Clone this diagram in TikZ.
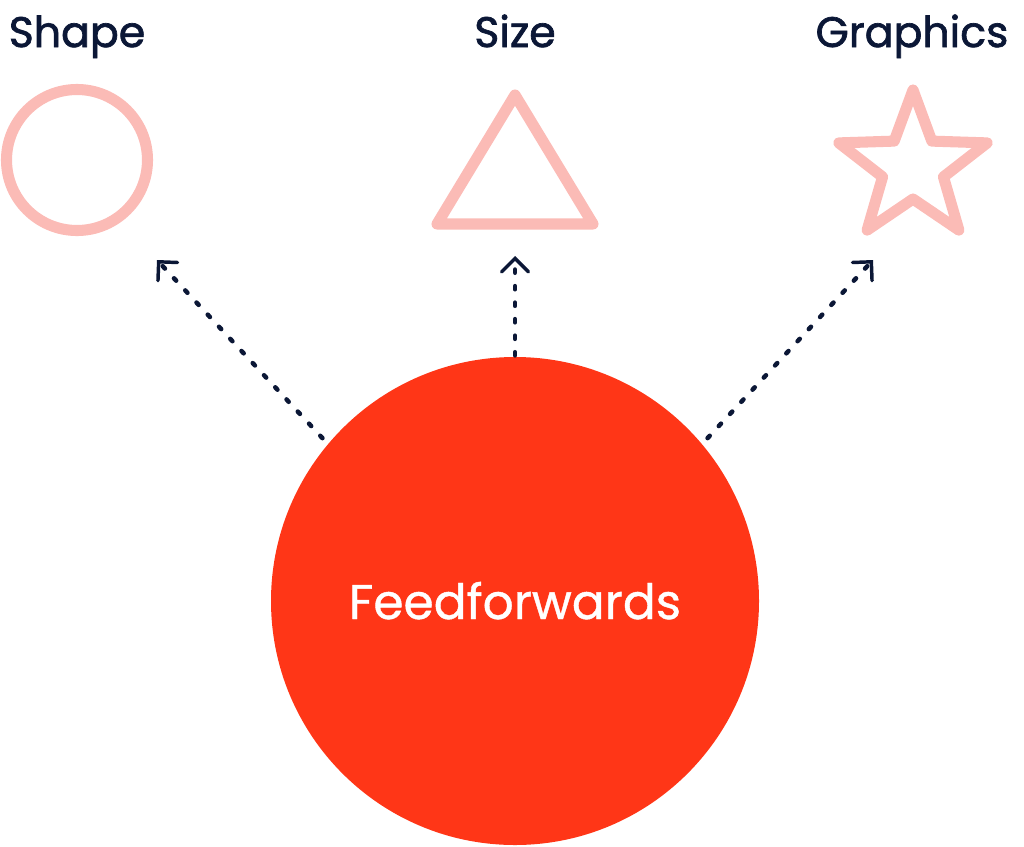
\documentclass[tikz,border=0pt]{standalone}
\usepackage{fontspec}
\setmainfont{Poppins}
\newfontfamily\labelfont[FakeBold=1.6]{Poppins}
\newfontfamily\mainlabelfont[FakeBold=0.8]{Poppins}
\usetikzlibrary{arrows.meta}
\definecolor{navy}{HTML}{0B1736}
\definecolor{pinkline}{HTML}{FBBBB6}
\definecolor{redfill}{HTML}{FF3617}
\tikzset{
  label/.style={text=navy, font=\labelfont\fontsize{32}{36}\selectfont, anchor=base, inner sep=0pt},
  icon/.style={draw=pinkline, line width=8.3pt, line join=round, line cap=round},
  dotarrow/.style={draw=navy, line width=3.4pt, line cap=round, dash pattern=on 2.4pt off 10pt,
    -{Straight Barb[length=10pt, width=20pt, line width=2.6pt, line cap=round]}},
}
\begin{document}
\begin{tikzpicture}[x=0.75pt, y=-0.75pt]
\useasboundingbox (0,0) rectangle (1024,846);
% labels
\node[label] (shape) at (77,47) {Shape};
\node[label] (size) at (515,47) {Size};
\node[label] (graphics) at (912,47) {Graphics};
% icons
\draw[icon] (77,160) circle (70.5);
\draw[icon] (515,95) -- (593,224) -- (437,224) -- cycle;
\draw[icon] (913,90)
  -- (913+32*0.588,167-32*0.809) -- (913+78*0.951,167-78*0.309)
  -- (913+32*0.951,167+32*0.309) -- (913+78*0.588,167+78*0.809)
  -- (913,167+32) -- (913-78*0.588,167+78*0.809)
  -- (913-32*0.951,167+32*0.309) -- (913-78*0.951,167-78*0.309)
  -- (913-32*0.588,167-32*0.809) -- cycle;
% main circle
\node[circle, fill=redfill, minimum size=366pt, inner sep=0pt] (ff) at (515,601) {};
\node[text=white, font=\mainlabelfont\fontsize{36.5}{40}\selectfont, anchor=base, inner sep=0pt] (fftext) at (515,619) {Feedforwards};
% arrow targets
\coordinate (tl) at (157,260);
\coordinate (tm) at (515,256);
\coordinate (tr) at (873,260);
\draw[dotarrow, shorten <=6pt] (ff.140) -- (tl);
\draw[dotarrow, shorten <=1pt] (ff.90) -- (tm);
\draw[dotarrow, shorten <=6pt] (ff.40) -- (tr);
\end{tikzpicture}
\end{document}
